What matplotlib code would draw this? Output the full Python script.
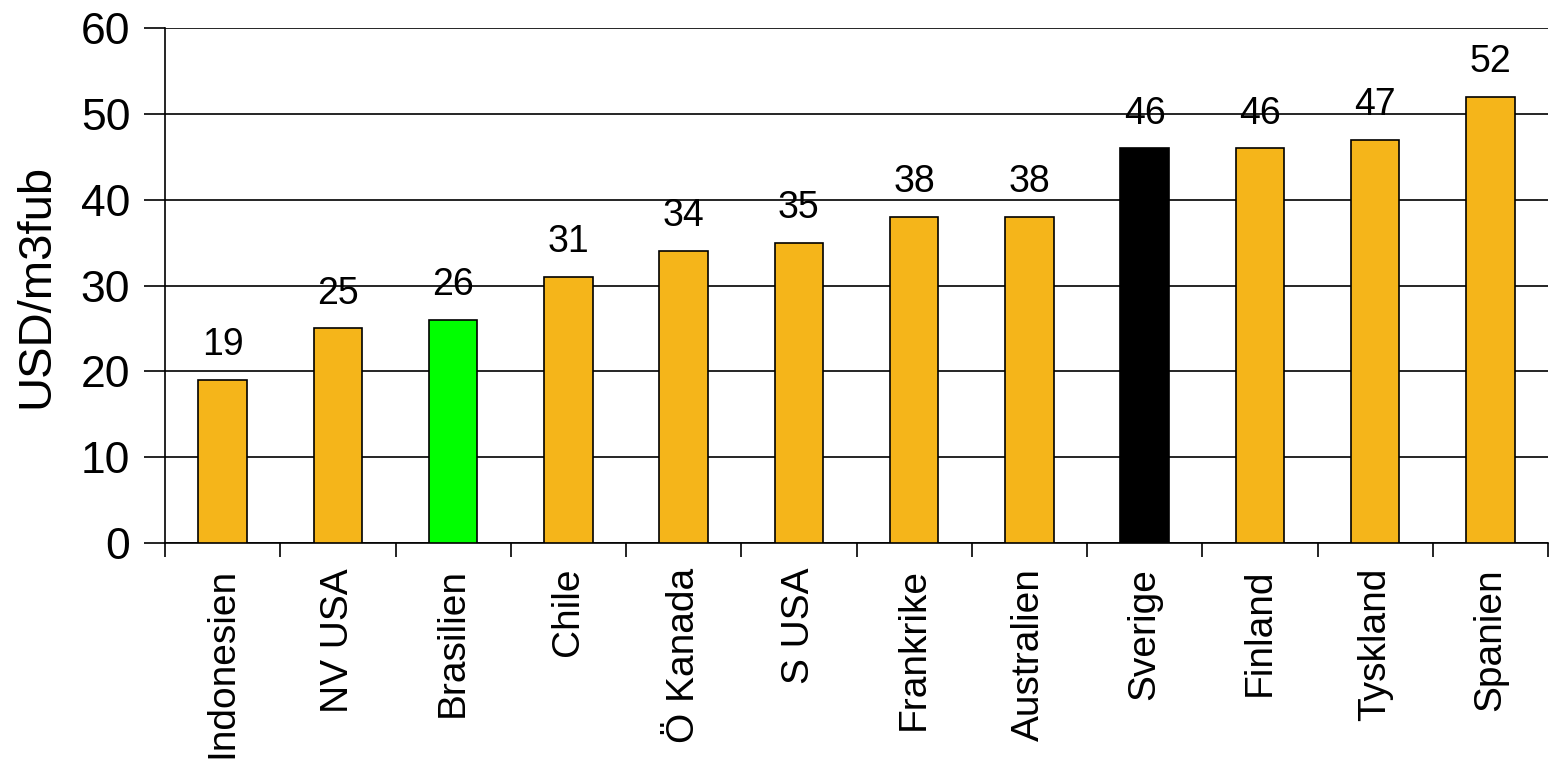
import matplotlib
matplotlib.use("Agg")
import matplotlib.pyplot as plt

plt.rcParams['font.family'] = ['Liberation Sans', 'DejaVu Sans']

categories = ["Indonesien", "NV USA", "Brasilien", "Chile", "Ö Kanada", "S USA",
              "Frankrike", "Australien", "Sverige", "Finland", "Tyskland", "Spanien"]
values = [19, 25, 26, 31, 34, 35, 38, 38, 46, 46, 47, 52]
colors = ["#F5B51A"] * 12
colors[2] = "#00FF00"
colors[8] = "#000000"

fig = plt.figure(figsize=(15.51, 7.61), dpi=100)
ax = fig.add_axes([165/1551, 1 - 543/761, (1548 - 165)/1551, (543 - 28)/761])

x = list(range(len(categories)))
ax.bar(x, values, width=0.42, color=colors, edgecolor="black", linewidth=1.2, zorder=3)
for xi, v in zip(x, values):
    ax.annotate(str(v), (xi, v), xytext=(0, 12), textcoords="offset points",
                ha="center", va="bottom", fontsize=27)

ax.set_xlim(-0.5, len(categories) - 0.5)
ax.set_ylim(0, 60)
ax.set_yticks(range(0, 61, 10))
ax.yaxis.grid(True, color="black", linewidth=1.2, zorder=0)
ax.set_axisbelow(True)
ax.tick_params(axis="y", labelsize=32, length=15, width=1.2, pad=10)
ax.set_xticks(x)
ax.set_xticklabels(categories, rotation=90, fontsize=28)
ax.tick_params(axis="x", length=0, pad=18)
ax.set_xticks([i + 0.5 for i in range(-1, len(categories))], minor=True)
ax.tick_params(axis="x", which="minor", length=10, width=1.2)
for s in ["top", "right"]:
    ax.spines[s].set_visible(False)
ax.spines["left"].set_linewidth(1.2)
ax.spines["bottom"].set_linewidth(1.2)
ax.set_ylabel("USD/m3fub", fontsize=34, labelpad=16)

fig.savefig("out.png", dpi=100)
